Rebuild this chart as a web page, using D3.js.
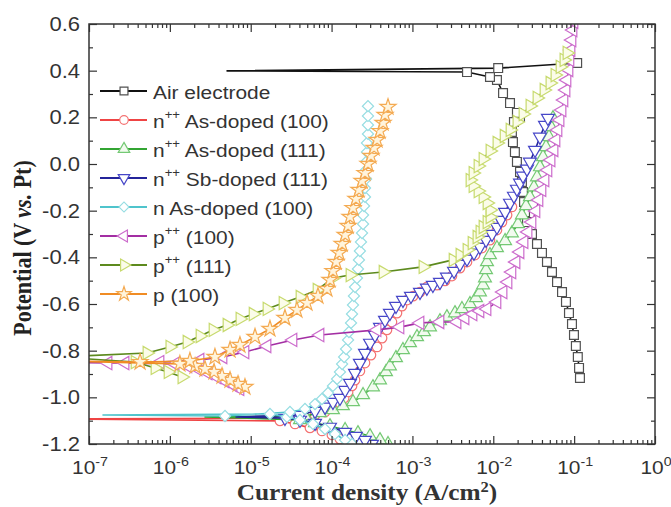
<!DOCTYPE html>
<html>
<head>
<meta charset="utf-8">
<script src="https://cdn.jsdelivr.net/npm/d3@7"></script>
<style>
  body { margin: 0; background: #fff; }
  svg { display: block; }
</style>
</head>
<body>
<svg id="chart" width="671" height="507"></svg>
<script>
// values: [current density (A/cm2), potential (V vs. Pt)]
// each curve = cathodic branch, the point near Ecorr, anodic branch

const airCathodic = [[0.118,-0.917],[0.115,-0.874],[0.111,-0.827],[0.105,-0.780],[0.0995,-0.733],[0.094,-0.686],[0.0863,-0.639],[0.0792,-0.591],[0.0708,-0.549],[0.0614,-0.506],[0.0532,-0.463],[0.0461,-0.420],[0.040,-0.381],[0.0347,-0.343],[0.0301,-0.300],[0.0261,-0.249],[0.0247,-0.206],[0.024,-0.163],[0.0233,-0.120],[0.0226,-0.077],[0.0214,-0.034],[0.0196,0.009],[0.0185,0.051],[0.0175,0.094],[0.017,0.137],[0.018,0.18],[0.0214,0.201],[0.0196,0.219],[0.0161,0.261],[0.0132,0.304],[0.0111,0.36],[0.0091,0.373],[0.00473,0.394]];
const airEcorr = [5.1e-6, 0.399];
const airAnodic = [[0.0115,0.411],[0.109,0.433]];

const redCathodic = [[1.55e-4,-1.205],[1.27e-4,-1.179],[1.01e-4,-1.161],[7.6e-5,-1.144],[5.41e-5,-1.131],[3.53e-5,-1.114],[2.3e-5,-1.101]];
const redEcorr = [4.4e-8, -1.093];
const redAnodic = [[4.07e-5,-1.089],[6.24e-5,-1.076],[8.3e-5,-1.063],[1.04e-4,-1.046],[1.27e-4,-1.024],[1.43e-4,-1.003],[1.6e-4,-0.977],[1.79e-4,-0.951],[1.95e-4,-0.926],[2.24e-4,-0.887],[2.59e-4,-0.853],[3.07e-4,-0.819],[3.65e-4,-0.784],[4.21e-4,-0.746],[4.84e-4,-0.711],[5.58e-4,-0.677],[6.44e-4,-0.639],[7.43e-4,-0.609],[8.57e-4,-0.583],[1.02e-3,-0.566],[1.24e-3,-0.549],[1.51e-3,-0.527],[2.01e-3,-0.519],[2.53e-3,-0.501],[3.08e-3,-0.48],[3.87e-3,-0.446],[4.73e-3,-0.42],[5.94e-3,-0.39],[7.24e-3,-0.36],[9.1e-3,-0.326],[1.11e-2,-0.283],[1.28e-2,-0.249],[1.48e-2,-0.219],[1.7e-2,-0.184]];

const greenCathodic = [[4.99e-4,-1.2],[3.97e-4,-1.183],[2.99e-4,-1.166],[2.12e-4,-1.153],[1.47e-4,-1.14],[9.55e-5,-1.123],[6.24e-5,-1.11],[4.07e-5,-1.097]];
const greenEcorr = [2.72e-6, -1.084];
const greenAnodic = [[4.69e-5,-1.08],[7.19e-5,-1.067],[1.04e-4,-1.054],[1.38e-4,-1.037],[1.84e-4,-1.02],[2.45e-4,-0.99],[3.25e-4,-0.956],[3.97e-4,-0.926],[4.71e-4,-0.891],[5.27e-4,-0.866],[6.26e-4,-0.831],[7.64e-4,-0.797],[9.33e-4,-0.767],[1.14e-3,-0.741],[1.39e-3,-0.72],[1.65e-3,-0.699],[2.19e-3,-0.673],[2.67e-3,-0.656],[3.36e-3,-0.639],[4.1e-3,-0.621],[5.15e-3,-0.6],[6.11e-3,-0.574],[6.84e-3,-0.549],[7.46e-3,-0.519],[7.89e-3,-0.489],[8.13e-3,-0.454],[8.36e-3,-0.42],[9.1e-3,-0.39],[1.11e-2,-0.36],[1.4e-2,-0.33],[1.7e-2,-0.296],[2.02e-2,-0.257],[2.26e-2,-0.219],[2.54e-2,-0.18],[2.84e-2,-0.141],[3.18e-2,-0.099],[3.47e-2,-0.056],[3.78e-2,-0.013],[4.12e-2,0.03],[4.49e-2,0.073],[4.89e-2,0.116],[5.18e-2,0.159],[5.47e-2,0.197]];

const blueCathodic = [[3.16e-4,-1.2],[2.59e-4,-1.183],[2.0e-4,-1.166],[1.47e-4,-1.149],[9.55e-5,-1.127],[6.24e-5,-1.11],[4.07e-5,-1.097],[2.65e-5,-1.089]];
const blueEcorr = [6.58e-6, -1.084];
const blueAnodic = [[4.07e-5,-1.076],[6.24e-5,-1.059],[8.3e-5,-1.041],[1.04e-4,-1.02],[1.27e-4,-1.003],[1.47e-4,-0.969],[1.69e-4,-0.939],[1.95e-4,-0.896],[2.24e-4,-0.853],[2.59e-4,-0.81],[2.99e-4,-0.767],[3.44e-4,-0.733],[3.97e-4,-0.699],[4.58e-4,-0.669],[5.27e-4,-0.639],[6.26e-4,-0.609],[7.64e-4,-0.583],[9.59e-4,-0.566],[1.24e-3,-0.549],[1.51e-3,-0.531],[1.79e-3,-0.519],[2.19e-3,-0.506],[2.67e-3,-0.484],[3.27e-3,-0.459],[3.87e-3,-0.429],[4.73e-3,-0.407],[5.77e-3,-0.381],[6.84e-3,-0.356],[8.13e-3,-0.326],[9.64e-3,-0.3],[1.11e-2,-0.27],[1.24e-2,-0.24],[1.4e-2,-0.206],[1.61e-2,-0.167],[1.8e-2,-0.137],[1.96e-2,-0.107],[2.14e-2,-0.081],[2.33e-2,-0.051],[2.61e-2,-0.021],[2.84e-2,0.009],[3.28e-2,0.06],[3.78e-2,0.116],[4.36e-2,0.167],[4.74e-2,0.197]];

const cyanCathodic = [[1.79e-4,-1.2],[1.47e-4,-1.183],[1.1e-4,-1.157],[8.3e-5,-1.136],[5.89e-5,-1.114],[4.07e-5,-1.097],[2.81e-5,-1.084],[1.73e-5,-1.071]];
const cyanEcorr = [1.49e-7, -1.076];
const cyanAnodic = [[4.81e-6,-1.08],[3.06e-5,-1.063],[4.69e-5,-1.05],[6.24e-5,-1.029],[7.6e-5,-1.007],[9.03e-5,-0.981],[1.04e-4,-0.951],[1.17e-4,-0.921],[1.27e-4,-0.891],[1.35e-4,-0.857],[1.43e-4,-0.827],[1.51e-4,-0.793],[1.6e-4,-0.754],[1.64e-4,-0.72],[1.74e-4,-0.681],[1.79e-4,-0.643],[1.84e-4,-0.604],[1.89e-4,-0.566],[1.95e-4,-0.527],[2.06e-4,-0.489],[2.12e-4,-0.45],[2.18e-4,-0.411],[2.24e-4,-0.373],[2.31e-4,-0.334],[2.38e-4,-0.296],[2.45e-4,-0.257],[2.45e-4,-0.219],[2.52e-4,-0.18],[2.59e-4,-0.141],[2.59e-4,-0.103],[2.67e-4,-0.064],[2.67e-4,-0.026],[2.74e-4,0.013],[2.74e-4,0.051],[2.74e-4,0.09],[2.82e-4,0.129],[2.82e-4,0.167],[2.82e-4,0.206],[2.82e-4,0.248]];

const magentaCathodic = [[7.36e-6,-0.964],[6.04e-6,-0.947],[4.81e-6,-0.93],[3.83e-6,-0.913],[2.97e-6,-0.896],[2.23e-6,-0.879],[1.67e-6,-0.866],[1.16e-6,-0.857]];
const magentaEcorr = [4.4e-8, -0.849];
const magentaAnodic = [[1.72e-7,-0.853],[2.79e-7,-0.853],[7.55e-7,-0.849],[2.36e-6,-0.84],[4.54e-6,-0.827],[8.49e-6,-0.806],[1.59e-5,-0.78],[3.33e-5,-0.754],[7.19e-5,-0.733],[3.65e-4,-0.711],[7.01e-4,-0.699],[1.24e-3,-0.681],[2.19e-3,-0.677],[3.56e-3,-0.677],[4.47e-3,-0.66],[5.61e-3,-0.643],[6.84e-3,-0.63],[8.36e-3,-0.621],[1.11e-2,-0.591],[1.32e-2,-0.549],[1.52e-2,-0.506],[1.7e-2,-0.463],[1.91e-2,-0.42],[2.14e-2,-0.377],[2.4e-2,-0.334],[2.69e-2,-0.291],[3.01e-2,-0.249],[3.37e-2,-0.201],[3.67e-2,-0.154],[4.0e-2,-0.111],[4.36e-2,-0.069],[4.74e-2,-0.026],[5.18e-2,0.017],[5.64e-2,0.06],[5.96e-2,0.103],[6.31e-2,0.146],[6.69e-2,0.189],[7.08e-2,0.231],[7.48e-2,0.274],[7.93e-2,0.317],[8.15e-2,0.36],[8.63e-2,0.403],[8.87e-2,0.446],[9.14e-2,0.489],[9.4e-2,0.531],[9.68e-2,0.574],[9.95e-2,0.609]];

const oliveCathodic = [[1.41e-6,-0.913],[9.5e-7,-0.891],[6.55e-7,-0.874],[3.71e-7,-0.849]];
const oliveEcorr = [4.4e-8, -0.827];
const oliveAnodic = [[5.21e-7,-0.81],[1.0e-6,-0.784],[1.63e-6,-0.763],[2.36e-6,-0.737],[3.42e-6,-0.711],[5.09e-6,-0.69],[7.36e-6,-0.664],[1.07e-5,-0.643],[1.59e-5,-0.621],[2.51e-5,-0.596],[4.07e-5,-0.57],[6.61e-5,-0.54],[1.04e-4,-0.489],[1.69e-4,-0.476],[4.33e-4,-0.463],[1.35e-3,-0.441],[3.18e-3,-0.411],[3.87e-3,-0.39],[4.73e-3,-0.369],[5.46e-3,-0.339],[6.28e-3,-0.313],[6.84e-3,-0.291],[7.46e-3,-0.27],[8.36e-3,-0.249],[9.1e-3,-0.227],[9.1e-3,-0.197],[8.36e-3,-0.167],[7.46e-3,-0.141],[6.47e-3,-0.116],[5.61e-3,-0.094],[5.15e-3,-0.069],[5.61e-3,-0.039],[6.47e-3,-0.009],[7.46e-3,0.021],[9.1e-3,0.056],[1.11e-2,0.09],[1.36e-2,0.12],[1.61e-2,0.146],[1.96e-2,0.18],[2.33e-2,0.214],[2.84e-2,0.249],[3.47e-2,0.283],[4.24e-2,0.317],[5.02e-2,0.347],[5.79e-2,0.381],[6.69e-2,0.416],[7.48e-2,0.446],[8.15e-2,0.476]];

const orangeCathodic = [[8.49e-6,-0.956],[6.97e-6,-0.943],[5.55e-6,-0.926],[4.42e-6,-0.909],[3.52e-6,-0.891],[2.72e-6,-0.879],[2.05e-6,-0.866],[1.33e-6,-0.857]];
const orangeEcorr = [4.4e-8, -0.844];
const orangeAnodic = [[4.28e-7,-0.849],[1.77e-6,-0.844],[3.61e-6,-0.827],[5.55e-6,-0.797],[7.36e-6,-0.776],[1.13e-5,-0.741],[1.73e-5,-0.707],[2.65e-5,-0.66],[3.73e-5,-0.626],[4.97e-5,-0.596],[6.79e-5,-0.566],[8.77e-5,-0.536],[9.55e-5,-0.497],[1.04e-4,-0.459],[1.14e-4,-0.42],[1.24e-4,-0.381],[1.35e-4,-0.343],[1.47e-4,-0.304],[1.6e-4,-0.266],[1.69e-4,-0.227],[1.84e-4,-0.189],[2.0e-4,-0.15],[2.18e-4,-0.111],[2.38e-4,-0.073],[2.59e-4,-0.039],[2.82e-4,0.0],[3.07e-4,0.034],[3.35e-4,0.069],[3.65e-4,0.103],[3.97e-4,0.141],[4.33e-4,0.176],[4.58e-4,0.21],[4.99e-4,0.244]];

// legend text (base, superscript, rest)
const legendBase = ["Air electrode", "n", "n", "n", "n", "p", "p", "p"];
const legendSup = ["", "++", "++", "++", "", "++", "++", ""];
const legendRest = ["", " As-doped (100)", " As-doped (111)", " Sb-doped (111)", " As-doped (100)", " (100)", " (111)", " (100)"];

// axis ticks
const xTicks = [1e-7, 1e-6, 1e-5, 1e-4, 1e-3, 1e-2, 1e-1, 1];
const xTickExp = ["-7", "-6", "-5", "-4", "-3", "-2", "-1", "0"];
const yTicks = [-1.2, -1.0, -0.8, -0.6, -0.4, -0.2, 0.0, 0.2, 0.4, 0.6];
const yTickLabels = ["-1.2", "-1.0", "-0.8", "-0.6", "-0.4", "-0.2", "0.0", "0.2", "0.4", "0.6"];

const curves = [
  [airCathodic, airEcorr, airAnodic],
  [redCathodic, redEcorr, redAnodic],
  [greenCathodic, greenEcorr, greenAnodic],
  [blueCathodic, blueEcorr, blueAnodic],
  [cyanCathodic, cyanEcorr, cyanAnodic],
  [magentaCathodic, magentaEcorr, magentaAnodic],
  [oliveCathodic, oliveEcorr, oliveAnodic],
  [orangeCathodic, orangeEcorr, orangeAnodic]
];

const styles = [
  {line: "#111", stroke: "#505050", fill: "#fff", shape: d3.symbolSquare, rot: 0, size: 78},
  {line: "#ef4444", stroke: "#f47272", fill: "#fff", shape: d3.symbolCircle, rot: 0, size: 72},
  {line: "#33a533", stroke: "#74c974", fill: "#f2fbef", shape: d3.symbolTriangle, rot: 0, size: 72},
  {line: "#24249a", stroke: "#4747c8", fill: "#fff", shape: d3.symbolTriangle, rot: 180, size: 72},
  {line: "#4fc4cc", stroke: "#96dde2", fill: "#fff", shape: d3.symbolSquare, rot: 45, size: 62},
  {line: "#a32ea3", stroke: "#cc6ccc", fill: "#fff", shape: d3.symbolTriangle, rot: -90, size: 76},
  {line: "#5d8a1e", stroke: "#c7da6e", fill: "#fbfce9", shape: d3.symbolTriangle, rot: 90, size: 76},
  {line: "#f08c24", stroke: "#f4aa52", fill: "#fff4dc", shape: d3.symbolStar, rot: 0, size: 80}
];

const svg = d3.select("#chart");
const plotL = 89, plotR = 655, plotT = 24, plotB = 444;

const x = d3.scaleLog().domain([1e-7, 1]).range([plotL, plotR]);
const y = d3.scaleLinear().domain([-1.2, 0.6]).range([plotB, plotT]);

svg.append("defs").append("clipPath").attr("id", "plotClip")
   .append("rect")
   .attr("x", plotL).attr("y", plotT)
   .attr("width", plotR - plotL).attr("height", plotB - plotT);

// text is a bit wider than tall in the picture
function label(parent, px, py, anchor, size, family, weight) {
  return parent.append("text")
    .attr("transform", `translate(${px},${py}) scale(1.1,1)`)
    .attr("text-anchor", anchor)
    .style("font-family", family)
    .style("font-size", size + "px")
    .style("font-weight", weight)
    .attr("fill", "#333");
}

// curves
const line = d3.line().x(d => x(d[0])).y(d => y(d[1]));
const plot = svg.append("g").attr("clip-path", "url(#plotClip)");

curves.forEach((c, i) => {
  const s = styles[i];
  const pts = c[0].concat([c[1]], c[2]);
  plot.append("path")
      .attr("d", line(pts))
      .attr("fill", "none")
      .attr("stroke", s.line)
      .attr("stroke-width", 1.6)
      .attr("stroke-linejoin", "round");

  plot.selectAll(null)
      .data(c[0].concat(c[2]))
      .enter().append("path")
      .attr("d", d3.symbol(s.shape, s.size)())
      .attr("transform", d => `translate(${x(d[0])},${y(d[1])}) rotate(${s.rot})`)
      .attr("fill", s.fill)
      .attr("stroke", s.stroke)
      .attr("stroke-width", 1.2);
});

// ticks (inward, on all four sides)
const xMinor = [];
for (let e = -7; e < 0; e++)
  for (let m = 2; m <= 9; m++) xMinor.push(m * Math.pow(10, e));
const yMinor = d3.range(-1.1, 0.6, 0.2);

function ticks(axis, vals, size, transform) {
  const g = svg.append("g")
    .attr("transform", transform)
    .call(axis.tickValues(vals).tickSize(-size).tickSizeOuter(0).tickFormat(""));
  g.select(".domain").remove();
  g.selectAll("line").attr("stroke", "#333").attr("stroke-width", 1.2);
}

ticks(d3.axisBottom(x), xTicks, 8, `translate(0,${plotB})`);
ticks(d3.axisBottom(x), xMinor, 4, `translate(0,${plotB})`);
ticks(d3.axisTop(x), xTicks, 8, `translate(0,${plotT})`);
ticks(d3.axisTop(x), xMinor, 4, `translate(0,${plotT})`);
ticks(d3.axisLeft(y), yTicks, 8, `translate(${plotL},0)`);
ticks(d3.axisLeft(y), yMinor, 4, `translate(${plotL},0)`);
ticks(d3.axisRight(y), yTicks, 8, `translate(${plotR},0)`);
ticks(d3.axisRight(y), yMinor, 4, `translate(${plotR},0)`);

svg.append("rect")
   .attr("x", plotL).attr("y", plotT)
   .attr("width", plotR - plotL).attr("height", plotB - plotT)
   .attr("fill", "none")
   .attr("stroke", "#333")
   .attr("stroke-width", 1.5);

// tick labels
const sans = "'Liberation Sans', Arial, sans-serif";
const serif = "'Liberation Serif', 'Times New Roman', serif";

yTicks.forEach((v, i) => {
  label(svg, 80, y(v) + 7, "end", 20, sans, "normal").text(yTickLabels[i]);
});

xTicks.forEach((v, i) => {
  const t = label(svg, x(v) + 1, 474, "middle", 19, sans, "normal");
  t.append("tspan").text("10");
  t.append("tspan").attr("dy", -8).style("font-size", "13px").text(xTickExp[i]);
});

// axis titles
const xt = label(svg, 367, 500, "middle", 23, serif, "bold");
xt.append("tspan").text("Current density (A/cm");
xt.append("tspan").attr("dy", -8).style("font-size", "15px").text("2");
xt.append("tspan").attr("dy", 8).text(")");

const yt = svg.append("text")
  .attr("transform", "translate(31,248) scale(1.1,1) rotate(-90)")
  .attr("text-anchor", "middle")
  .style("font-family", serif)
  .style("font-size", "22px")
  .style("font-weight", "bold")
  .attr("fill", "#222");
yt.append("tspan").text("Potential (V ");
yt.append("tspan").style("font-style", "italic").text("vs.");
yt.append("tspan").text(" Pt)");

// legend
const legend = svg.append("g");
styles.forEach((s, i) => {
  const base = 99 + 29 * i;
  const ly = base - 8;
  legend.append("line")
        .attr("x1", 100).attr("x2", 147)
        .attr("y1", ly).attr("y2", ly)
        .attr("stroke", s.line)
        .attr("stroke-width", 1.8);
  legend.append("path")
        .attr("d", d3.symbol(s.shape, s.size * 0.8)())
        .attr("transform", `translate(124,${ly}) rotate(${s.rot})`)
        .attr("fill", s.fill)
        .attr("stroke", s.stroke)
        .attr("stroke-width", 1.2);
  const t = label(legend, 153, base, "start", 19, sans, "normal");
  t.append("tspan").text(legendBase[i]);
  if (legendSup[i]) {
    t.append("tspan").attr("dy", -9).style("font-size", "12px").text(legendSup[i]);
    t.append("tspan").attr("dy", 9).text(legendRest[i]);
  } else if (legendRest[i]) {
    t.append("tspan").text(legendRest[i]);
  }
});
</script>
</body>
</html>
